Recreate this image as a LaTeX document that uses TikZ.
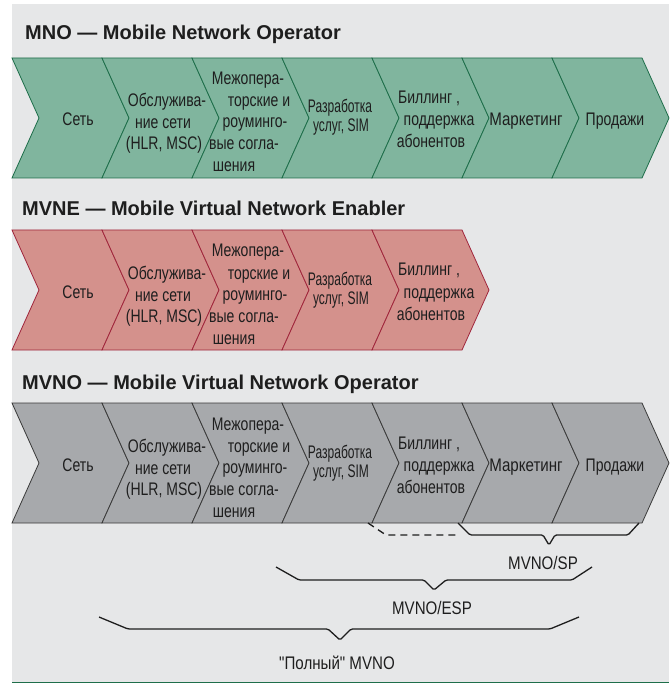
\documentclass[tikz,border=0pt]{standalone}
\usepackage{fontspec}
\setmainfont{Liberation Sans}
\newfontfamily\condfont[FakeStretch=0.77]{Liberation Sans}
\newfontfamily\sqfont[FakeStretch=0.66]{Liberation Sans}
\newfontfamily\wdfont[FakeStretch=0.83]{Liberation Sans}
\newfontfamily\labfont[FakeStretch=0.83]{Liberation Sans}
\definecolor{bgc}{HTML}{E6E7E8}
\definecolor{mnofill}{HTML}{80B59E}
\definecolor{mnodraw}{HTML}{1E6E4A}
\definecolor{mvnefill}{HTML}{D4918C}
\definecolor{mvnedraw}{HTML}{A0263C}
\definecolor{mvnofill}{HTML}{A7A9AC}
\definecolor{mvnodraw}{HTML}{3A3A3A}
\definecolor{txt}{HTML}{1E1E1E}
\tikzset{
  lbl/.style={font=\condfont\fontsize{18.2}{21}\selectfont, anchor=base, inner sep=0pt, text=txt},
  sqlbl/.style={lbl, font=\sqfont\fontsize{18.2}{21}\selectfont},
  wdlbl/.style={lbl, font=\wdfont\fontsize{18.2}{21}\selectfont},
  blbl/.style={font=\labfont\fontsize{18.2}{21}\selectfont, anchor=base, inner sep=0pt, text=txt},
  ttl/.style={font=\fontsize{20}{22}\selectfont\bfseries, anchor=base west, inner sep=0pt, text=txt},
  brc/.style={draw=txt, line width=1.3pt, rounded corners=1.5pt},
}
\newcommand\chev[4]{\filldraw[fill=#3,draw=#4,line width=0.8pt] (#1,#2) -- ++(90,0) -- ++(27,60) -- ++(-27,60) -- ++(-90,0) -- ++(27,-60) -- cycle;}
\newcommand\rowtxt[3]{%
\begin{scope}[shift={(0,#2)}]
\node[lbl] (#1a) at (78,126) {Сеть};
\node[lbl] (#1b1) at (167,107) {Обслужива-};
\node[lbl] (#1b2) at (163,129) {ние сети};
\node[lbl] (#1b3) at (164,150) {(HLR, MSC)};
\node[lbl] (#1c1) at (248,85) {Межопера-};
\node[lbl] (#1c2) at (259,107) {торские и};
\node[lbl] (#1c3) at (255,128) {роуминго-};
\node[lbl] (#1c4) at (244,150) {вые согла-};
\node[lbl] (#1c5) at (234,172) {шения};
\node[sqlbl] (#1d1) at (340,113) {Разработка};
\node[sqlbl] (#1d2) at (341,132) {услуг, SIM};
\node[lbl] (#1e1) at (429,104) {Биллинг ,};
\node[lbl] (#1e2) at (439,126) {поддержка};
\node[lbl] (#1e3) at (431,148) {абонентов};
\ifnum#3>5
\node[wdlbl] (#1f) at (526,126) {Маркетинг};
\node[lbl] (#1g) at (615,126) {Продажи};
\fi
\end{scope}}
\begin{document}
\begin{tikzpicture}[x=1pt,y=-1pt]
\useasboundingbox (0,0) rectangle (669,684);
\fill[bgc] (12,4) rectangle (669,682);
\draw[mnodraw,line width=1.5pt] (12,682.5) -- (669,682.5);
% titles
\node[ttl] (t1) at (25,40) {MNO — Mobile Network Operator};
\node[ttl] (t2) at (22,216) {MVNE — Mobile Virtual Network Enabler};
\node[ttl] (t3) at (22,389) {MVNO — Mobile Virtual Network Operator};
% chevrons
\foreach \i in {0,...,6} {\chev{12+90*\i}{58}{mnofill}{mnodraw}}
\foreach \i in {0,...,4} {\chev{12+90*\i}{230}{mvnefill}{mvnedraw}}
\foreach \i in {0,...,6} {\chev{12+90*\i}{403}{mvnofill}{mvnodraw}}
\rowtxt{m}{0}{7}
\rowtxt{e}{172}{5}
\rowtxt{v}{345}{7}
% braces
\draw[draw=txt, line width=1.3pt, dash pattern=on 7pt off 5pt] (368,523) -- (386,535) -- (460,535);
\draw[brc] (458,523) -- (470,535) -- (543,535) -- (549,545) -- (555,535) -- (628,535) -- (639,523);
\draw[brc] (276,567) -- (299,580) -- (424,580) -- (434,590) -- (446,580) -- (572,580) -- (592,567);
\draw[brc] (99,617) -- (128,629) -- (328,629) -- (340,640) -- (351,629) -- (550,629) -- (579,617);
\node[blbl] (sp) at (543,569) {MVNO/SP};
\node[blbl] (esp) at (432,614) {MVNO/ESP};
\node[blbl] (full) at (337,669) {"Полный" MVNO};
\end{tikzpicture}
\end{document}
